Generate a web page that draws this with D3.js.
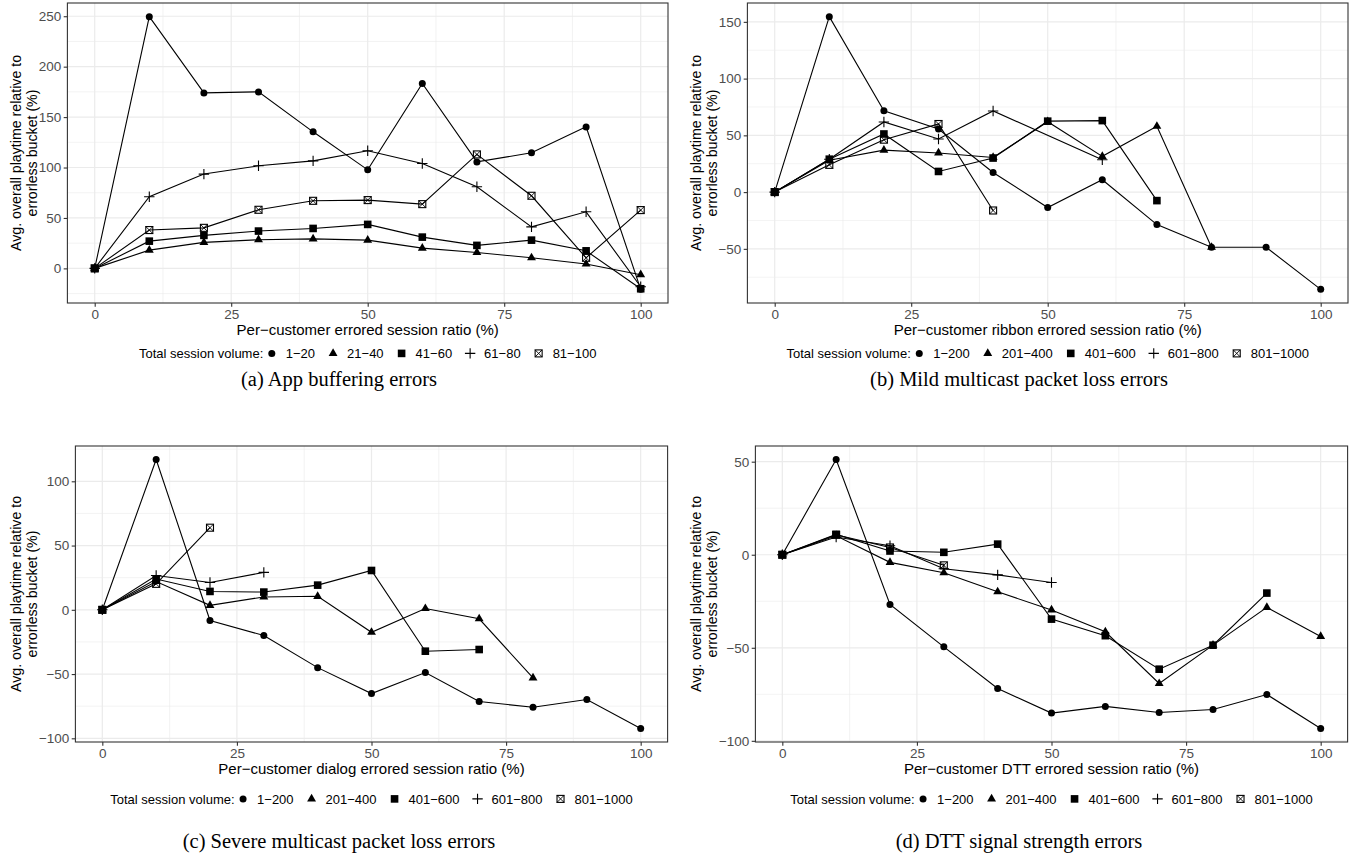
<!DOCTYPE html>
<html>
<head>
<meta charset="utf-8">
<script src="https://cdn.jsdelivr.net/npm/d3@7"></script>
<style>
  body { margin: 0; background: #fff; }
  svg { display: block; }
</style>
</head>
<body>
<svg id="fig" width="1367" height="853"></svg>
<script>
// Errored-session ratio buckets (x axis, %)
const ratio = [0, 10, 20, 30, 40, 50, 60, 70, 80, 90, 100];

// Session-volume buckets used in the legends
const bucketsSmall = ["1−20", "21−40", "41−60", "61−80", "81−100"];
const bucketsLarge = ["1−200", "201−400", "401−600", "601−800", "801−1000"];

// (a) App buffering errors: playtime change (%) per volume bucket
const appVol1  = [0, 249.6, 174, 175, 135.4, 97.7, 183.3, 105.6, 114.6, 140.3, -20.8];
const appVol2  = [0, 18.1, 25.8, 28.4, 29.3, 28, 20.1, 15.8, 10.5, 4.3, -6.3];
const appVol3  = [0, 27, 32.7, 37, 39.6, 43.6, 31, 22.8, 28, 17.4, -20.2];
const appVol4  = [0, 71, 93.5, 101.7, 106.6, 116.6, 104, 80.9, 41.2, 56.1, -18.2];
const appVol5  = [0, 38, 40.2, 58.1, 67, 67.7, 63.7, 113, 72, 10.5, 57.8];

// (b) Mild multicast packet loss (null = no customers in that bucket)
const mildVol1 = [0, 154.6, 71.6, 55.6, 17.3, -13.6, 10.9, -28.6, -48.6, -48.6, -85.7];
const mildVol2 = [0, 28, 37, 34.5, 30.5, 62, 31.5, 58, -48.6, null, null];
const mildVol3 = [0, 29, 51.2, 18.2, 30, 62.5, 63, -7.5, null, null, null];
const mildVol4 = [0, 29, 61.8, 46.8, 71.5, null, 28.5, null, null, null, null];
const mildVol5 = [0, 24, 46.2, 60, -16.2, null, null, null, null, null, null];

// (c) Severe multicast packet loss
const sevVol1  = [0, 117, -8.3, -20, -45, -65.2, -48.8, -71.4, -75.8, -69.8, -92.4];
const sevVol2  = [0, 22, 3.5, 10, 10.5, -17.5, 1, -7, -53, null, null];
const sevVol3  = [0, 24, 14.3, 13.8, 19.2, 30.6, -32.2, -30.9, null, null, null];
const sevVol4  = [0, 26.7, 21.3, 29.1, null, null, null, null, null, null, null];
const sevVol5  = [0, 20.2, 63.9, null, null, null, null, null, null, null, null];

// (d) DTT signal strength
const dttVol1  = [0, 51.2, -26.7, -49.5, -71.9, -85.1, -81.5, -84.8, -83.2, -75.1, -93.4];
const dttVol2  = [0, 10.2, -4.1, -9.7, -19.9, -29.7, -41.4, -69.2, -48.6, -28.3, -43.9];
const dttVol3  = [0, 10.9, 2, 1.3, 5.7, -34.6, -43.5, -61.5, -48.6, -20.6, null];
const dttVol4  = [0, 9.5, 4.8, -7.5, -10.8, -14.9, null, null, null, null, null];
const dttVol5  = [0, 10.7, 3.9, -5.7, null, null, null, null, null, null, null];

const xTicks = [0, 25, 50, 75, 100];
const yTitle = ["Avg. overall playtime relative to", "errorless bucket (%)"];
const legendTitle = "Total session volume:";
const shapes = ["circle", "triangle", "square", "plus", "boxcross"];

const panels = [
  { series: [appVol1, appVol2, appVol3, appVol4, appVol5], buckets: bucketsSmall,
    xTitle: "Per−customer errored session ratio (%)", caption: "(a) App buffering errors",
    left: 67.4, right: 668, top: 3, bottom: 303, titleX: 0, capX: 339,
    xTitleDy: 31.5, legendDy: 55, captionDy: 83 },
  { series: [mildVol1, mildVol2, mildVol3, mildVol4, mildVol5], buckets: bucketsLarge,
    xTitle: "Per−customer ribbon errored session ratio (%)", caption: "(b) Mild multicast packet loss errors",
    left: 747.4, right: 1348, top: 3, bottom: 303, titleX: 680, capX: 1019,
    xTitleDy: 31.5, legendDy: 55, captionDy: 83 },
  { series: [sevVol1, sevVol2, sevVol3, sevVol4, sevVol5], buckets: bucketsLarge,
    xTitle: "Per−customer dialog errored session ratio (%)", caption: "(c) Severe multicast packet loss errors",
    left: 75.4, right: 667.6, top: 446, bottom: 742, titleX: 0, capX: 339,
    xTitleDy: 31.5, legendDy: 61.5, captionDy: 105.5 },
  { series: [dttVol1, dttVol2, dttVol3, dttVol4, dttVol5], buckets: bucketsLarge,
    xTitle: "Per−customer DTT errored session ratio (%)", caption: "(d) DTT signal strength errors",
    left: 755.4, right: 1347.6, top: 446, bottom: 742, titleX: 680, capX: 1019,
    xTitleDy: 31.5, legendDy: 61.5, captionDy: 105.5 }
];

const svg = d3.select("#fig");
const SANS = "'Liberation Sans', Arial, Helvetica, sans-serif";
const SERIF = "'Liberation Serif', 'Times New Roman', serif";
const GRID = "#EBEBEB";

// Point glyphs modelled on R's pch 16, 17, 15, 3 and 7
function drawShape(g, type, cx, cy) {
  if (type === "circle") {
    g.append("circle").attr("cx", cx).attr("cy", cy).attr("r", 3.5).attr("fill", "#000");
  } else if (type === "triangle") {
    const k = 3.3;
    g.append("path")
      .attr("d", `M${cx},${cy - 1.555 * k}L${cx + 1.347 * k},${cy + 0.778 * k}L${cx - 1.347 * k},${cy + 0.778 * k}Z`)
      .attr("fill", "#000");
  } else if (type === "square") {
    const s = 7.6;
    g.append("rect").attr("x", cx - s / 2).attr("y", cy - s / 2).attr("width", s).attr("height", s).attr("fill", "#000");
  } else if (type === "plus") {
    const a = 5.2;
    g.append("path").attr("d", `M${cx - a},${cy}H${cx + a}M${cx},${cy - a}V${cy + a}`)
      .attr("stroke", "#000").attr("stroke-width", 1.1).attr("fill", "none");
  } else {
    const h = 3.5;
    g.append("rect").attr("x", cx - h).attr("y", cy - h).attr("width", 2 * h).attr("height", 2 * h)
      .attr("fill", "none").attr("stroke", "#000").attr("stroke-width", 1.1);
    g.append("path").attr("d", `M${cx - h},${cy - h}L${cx + h},${cy + h}M${cx + h},${cy - h}L${cx - h},${cy + h}`)
      .attr("stroke", "#000").attr("stroke-width", 0.9).attr("fill", "none");
  }
}

panels.forEach(p => {
  const g = svg.append("g");
  const vals = p.series.flat().filter(v => v != null);
  const [lo, hi] = d3.extent(vals);
  const pad = (hi - lo) * 0.05;
  const dLo = lo - pad, dHi = hi + pad;

  const x = d3.scaleLinear().domain([-5, 105]).range([p.left, p.right]);
  const y = d3.scaleLinear().domain([dLo, dHi]).range([p.bottom, p.top]);

  const yMajor = d3.range(Math.ceil(dLo / 50) * 50, dHi, 50);
  const yMinor = d3.range(Math.ceil((dLo - 25) / 50) * 50 + 25, dHi, 50);
  const xMinor = [12.5, 37.5, 62.5, 87.5];

  // grid
  const grid = g.append("g");
  yMinor.forEach(v => grid.append("line").attr("x1", p.left).attr("x2", p.right)
    .attr("y1", y(v)).attr("y2", y(v)).attr("stroke", GRID).attr("stroke-width", 0.6));
  xMinor.forEach(v => grid.append("line").attr("y1", p.top).attr("y2", p.bottom)
    .attr("x1", x(v)).attr("x2", x(v)).attr("stroke", GRID).attr("stroke-width", 0.6));
  yMajor.forEach(v => grid.append("line").attr("x1", p.left).attr("x2", p.right)
    .attr("y1", y(v)).attr("y2", y(v)).attr("stroke", GRID).attr("stroke-width", 1.2));
  xTicks.forEach(v => grid.append("line").attr("y1", p.top).attr("y2", p.bottom)
    .attr("x1", x(v)).attr("x2", x(v)).attr("stroke", GRID).attr("stroke-width", 1.2));

  // lines, then points on top
  const line = d3.line().x(d => x(d[0])).y(d => y(d[1]));
  const pts = p.series.map(s => ratio.map((r, i) => [r, s[i]]).filter(d => d[1] != null));
  pts.forEach(d => g.append("path").attr("d", line(d)).attr("fill", "none")
    .attr("stroke", "#000").attr("stroke-width", 1.1));
  pts.forEach((d, si) => d.forEach(pt => drawShape(g, shapes[si], x(pt[0]), y(pt[1]))));

  // border
  g.append("rect").attr("x", p.left).attr("y", p.top).attr("width", p.right - p.left)
    .attr("height", p.bottom - p.top).attr("fill", "none").attr("stroke", "#333").attr("stroke-width", 1.1);

  // axes
  const fmt = d3.format("d");
  const ax = g.append("g").attr("transform", `translate(0,${p.bottom})`)
    .call(d3.axisBottom(x).tickValues(xTicks).tickFormat(fmt).tickSize(3.7).tickPadding(2.4));
  const ay = g.append("g").attr("transform", `translate(${p.left},0)`)
    .call(d3.axisLeft(y).tickValues(yMajor).tickFormat(fmt).tickSize(3.7).tickPadding(2.4));
  [ax, ay].forEach(a => {
    a.select(".domain").remove();
    a.selectAll(".tick line").attr("stroke", "#333").attr("stroke-width", 1.1);
    a.selectAll(".tick text").attr("fill", "#4D4D4D").style("font-family", SANS).style("font-size", "13.5px");
  });

  // axis titles
  g.append("text").attr("x", (p.left + p.right) / 2).attr("y", p.bottom + p.xTitleDy)
    .attr("text-anchor", "middle").style("font-family", SANS).style("font-size", "15px")
    .attr("fill", "#000").text(p.xTitle);
  const yt = g.append("g").attr("transform", `translate(${p.titleX},${(p.top + p.bottom) / 2}) rotate(-90)`);
  yt.append("text").attr("x", 0).attr("y", 21).attr("text-anchor", "middle")
    .style("font-family", SANS).style("font-size", "14.2px").text(yTitle[0]);
  yt.append("text").attr("x", 0).attr("y", 36.7).attr("text-anchor", "middle")
    .style("font-family", SANS).style("font-size", "14.2px").text(yTitle[1]);

  // legend (laid out left to right, then centred under the panel)
  const lg = g.append("g");
  const fs = "13px";
  let cur = 0;
  const base = 4.6;
  const tTitle = lg.append("text").attr("x", 0).attr("y", base).style("font-family", SANS)
    .style("font-size", fs).text(legendTitle);
  cur += tTitle.node().getComputedTextLength() + 8.5;
  p.buckets.forEach((b, i) => {
    drawShape(lg, shapes[i], cur, 0);
    cur += 14;
    const t = lg.append("text").attr("x", cur).attr("y", base).style("font-family", SANS)
      .style("font-size", fs).text(b);
    cur += t.node().getComputedTextLength();
    if (i < p.buckets.length - 1) cur += 18;
  });
  lg.attr("transform", `translate(${(p.left + p.right) / 2 - cur / 2},${p.bottom + p.legendDy - base})`);

  // sub-figure caption
  g.append("text").attr("x", p.capX).attr("y", p.bottom + p.captionDy).attr("text-anchor", "middle")
    .style("font-family", SERIF).style("font-size", "20.5px").attr("fill", "#000").text(p.caption);
});
</script>
</body>
</html>
